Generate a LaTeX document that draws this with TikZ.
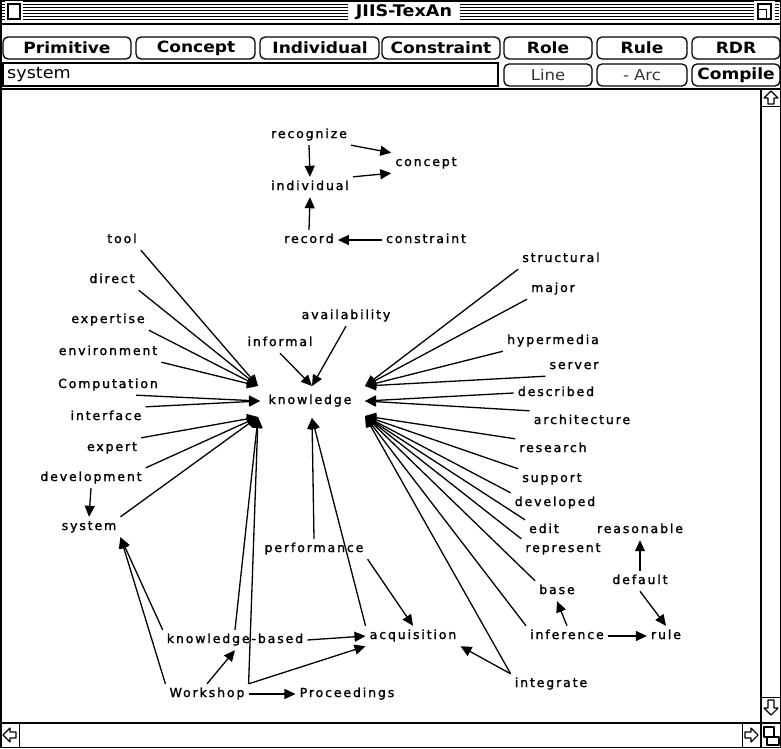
\documentclass[tikz,border=0pt]{standalone}
\usepackage{fontspec}
\usetikzlibrary{arrows.meta}
\newfontfamily\labfont{DejaVu Sans}[LetterSpace=15,FakeBold=1.6]
\newfontfamily\chicfont{DejaVu Sans}[FakeStretch=1.1]
\newfontfamily\thinfont{DejaVu Sans}[FakeStretch=1.1]
\begin{document}
\begin{tikzpicture}[x=1pt,y=-1pt,
  lab/.style={font=\labfont\fontsize{12.5}{12.5}\selectfont, inner sep=4pt,
              text height=9pt, text depth=3pt},
  arr/.style={-{Triangle[length=11pt,width=10pt]}, line width=1.3pt},
  btn/.style={draw, rounded corners=5pt, line width=1.3pt},
  btntext/.style={font=\chicfont\bfseries\fontsize{15.5}{15.5}\selectfont, inner sep=0pt},
  dimtext/.style={font=\thinfont\fontsize{15}{15}\selectfont, text=black!80, inner sep=0pt},
  frame/.style={line width=1.5pt},
  icon/.style={line width=1.1pt, line join=round}]
\useasboundingbox (0,0) rectangle (781,748);

% ---------------- window chrome ----------------
\draw[frame] (0.75,0.75) rectangle (780.25,747.25);
\foreach \y in {4,7,10,13,16,19}
  \draw[line width=1pt] (2,\y) -- (779,\y);
\draw[fill=white, draw=white, line width=2pt] (6,2) rectangle (22,21);
\draw[line width=1.3pt] (8,4) rectangle (20,19);
\draw[fill=white, draw=white, line width=2pt] (755,2) rectangle (774,21);
\draw[line width=1.3pt] (758,4) rectangle (771,19);
\draw[line width=1pt] (758,9) -- (766,9) -- (766,19);
\node[font=\chicfont\bfseries\fontsize{16}{16}\selectfont, fill=white, inner xsep=8pt, inner ysep=1pt]
  (title) at (404,12) {JIIS-TexAn};
\draw[frame] (0,24) -- (781,24);

% buttons, first row
\draw[btn] (3,37) rectangle (131,59);
\node[btntext] (bPrim) at (67,48) {Primitive};
\draw[btn] (136,37) rectangle (255,59);
\node[btntext] (bConc) at (196,48) {Concept};
\draw[btn] (260,37) rectangle (379,59);
\node[btntext] (bIndi) at (320,48) {Individual};
\draw[btn] (382,37) rectangle (500,59);
\node[btntext] (bCons) at (441,48) {Constraint};
\draw[btn] (504,37) rectangle (592,59);
\node[btntext] (bRole) at (548,48) {Role};
\draw[btn] (597,37) rectangle (687,59);
\node[btntext] (bRule) at (642,48) {Rule};
\draw[btn] (692,37) rectangle (780,59);
\node[btntext] (bRDR) at (736,48) {RDR};

% text field and second row
\draw[line width=1.3pt] (3,63) rectangle (498,86);
\node[font=\thinfont\fontsize{16}{16}\selectfont, anchor=west, inner sep=0pt] (field) at (7,75) {system};
\draw[btn] (504,64) rectangle (592,86);
\node[dimtext] (bLine) at (548,75) {Line};
\draw[btn] (597,64) rectangle (687,86);
\node[dimtext] (bArc) at (642,75) {- Arc};
\draw[btn] (692,64) rectangle (780,86);
\node[btntext] (bComp) at (736,75) {Compile};

% canvas frame and scroll bars
\draw[frame] (0,89) -- (781,89);
\draw[frame] (761,89) -- (761,747);
\draw[line width=1pt] (761,106) -- (781,106);
\draw[line width=1pt] (761,697) -- (781,697);
\draw[frame] (0,723) -- (781,723);
\draw[line width=1pt] (19,723) -- (19,747);
\draw[line width=1pt] (742,723) -- (742,747);
% arrow glyphs
\draw[icon] (771,91) -- (778,98) -- (774,98) -- (774,104) -- (768,104) -- (768,98) -- (764,98) -- cycle;
\draw[icon] (771,715) -- (778,708) -- (774,708) -- (774,700) -- (768,700) -- (768,708) -- (764,708) -- cycle;
\draw[icon] (3,735) -- (10,728) -- (10,732) -- (16,732) -- (16,738) -- (10,738) -- (10,742) -- cycle;
\draw[icon] (758,735) -- (751,728) -- (751,732) -- (745,732) -- (745,738) -- (751,738) -- (751,742) -- cycle;
% grow box
\draw[icon] (764,727) rectangle (774,737);
\draw[icon] (767,737) rectangle (779,745);

% ---------------- concept map ----------------
\node[lab] (recognize) at (309,135) {recognize};
\node[lab] (concept) at (426,163) {concept};
\node[lab] (individual) at (310,187) {individual};
\node[lab] (record) at (309,240) {record};
\node[lab] (constraint) at (426,240) {constraint};
\node[lab] (tool) at (122,240) {tool};
\node[lab] (direct) at (112,280) {direct};
\node[lab] (structural) at (561,259) {structural};
\node[lab] (major) at (553,289) {major};
\node[lab] (availability) at (346,316) {availability};
\node[lab] (informal) at (280,343) {informal};
\node[lab] (expertise) at (108,320) {expertise};
\node[lab] (hypermedia) at (553,341) {hypermedia};
\node[lab] (environment) at (108,352) {environment};
\node[lab] (server) at (574,366) {server};
\node[lab] (Computation) at (108,385) {Computation};
\node[lab] (described) at (556,393) {described};
\node[lab] (knowledge) at (310,401) {knowledge};
\node[lab] (interface) at (106,417) {interface};
\node[lab] (architecture) at (582,421) {architecture};
\node[lab] (expert) at (112,448) {expert};
\node[lab] (research) at (553,449) {research};
\node[lab] (development) at (91,478) {development};
\node[lab] (support) at (552,479) {support};
\node[lab] (developed) at (555,503) {developed};
\node[lab] (system) at (89,527) {system};
\node[lab] (edit) at (544,530) {edit};
\node[lab] (reasonable) at (640,530) {reasonable};
\node[lab] (represent) at (563,549) {represent};
\node[lab] (performance) at (314,549) {performance};
\node[lab] (default) at (640,581) {default};
\node[lab] (base) at (557,591) {base};
\node[lab] (kbased) at (235,640) {knowledge-based};
\node[lab] (acquisition) at (413,636) {acquisition};
\node[lab] (inference) at (567,636) {inference};
\node[lab] (rule) at (666,636) {rule};
\node[lab] (integrate) at (551,684) {integrate};
\node[lab] (Workshop) at (207,694) {Workshop};
\node[lab] (Proceedings) at (347,694) {Proceedings};

% arrival points around "knowledge"
\coordinate (kLT) at (258,386);
\coordinate (kL)  at (260,401);
\coordinate (kLB) at (258,417);
\coordinate (kT)  at (312,386);
\coordinate (kB)  at (312,418);
\coordinate (kRT) at (365,386);
\coordinate (kR)  at (365,401);
\coordinate (kRB) at (365,416);

% upper group
\draw[arr] (recognize.south) -- (individual.north);
\draw[arr] (recognize.south east) -- (concept.north west);
\draw[arr] (individual.north east) -- (concept.south west);
\draw[arr] (record.north) -- (individual.south);
\draw[arr] (constraint.west) -- (record.east);

% into knowledge from the left
\draw[arr] (tool.south east) -- (kLT);
\draw[arr] (direct.south east) -- (kLT);
\draw[arr] (expertise.south east) -- (kLT);
\draw[arr] (environment.south east) -- (kLT);
\draw[arr] (Computation.-20) -- (kL);
\draw[arr] (interface.north east) -- (kL);
\draw[arr] (expert.north east) -- (kLB);
\draw[arr] (development.north east) -- (kLB);
\draw[arr] (system.north east) -- (kLB);
\draw[arr] (kbased.north) -- (kLB);
\draw[arr] (Workshop.north east) -- (kLB);

% into knowledge from above and below
\draw[arr] (informal.south) -- (kT);
\draw[arr] (availability.south) -- (kT);
\draw[arr] (performance.north) -- (kB);
\draw[arr] (acquisition.north west) -- (kB);

% into knowledge from the right
\draw[arr] (structural.south west) -- (kRT);
\draw[arr] (major.south west) -- (kRT);
\draw[arr] (hypermedia.south west) -- (kRT);
\draw[arr] (server.south west) -- (kRT);
\draw[arr] (described.west) -- (kR);
\draw[arr] (architecture.north west) -- (kR);
\draw[arr] (research.north west) -- (kRB);
\draw[arr] (support.north west) -- (kRB);
\draw[arr] (developed.north west) -- (kRB);
\draw[arr] (edit.north west) -- (kRB);
\draw[arr] (represent.north west) -- (kRB);
\draw[arr] (base.north west) -- (kRB);
\draw[arr] (inference.north west) -- (kRB);
\draw[arr] (integrate.north west) -- (kRB);

% lower group
\draw[arr] (development.south) -- (system.north);
\draw[arr] (Workshop.north west) -- (system.south east);
\draw[arr] (kbased.north west) -- (system.south east);
\draw[arr] (Workshop.north) -- (kbased.south);
\draw[arr] (Workshop.north east) -- (acquisition.south west);
\draw[arr] (Workshop.east) -- (Proceedings.west);
\draw[arr] (kbased.east) -- (acquisition.west);
\draw[arr] (performance.south east) -- (acquisition.north);
\draw[arr] (integrate.north west) -- (acquisition.south east);
\draw[arr] (inference.north) -- (base.south);
\draw[arr] (inference.east) -- (rule.west);
\draw[arr] (default.north) -- (reasonable.south);
\draw[arr] (default.south) -- (rule.north);
\end{tikzpicture}
\end{document}
